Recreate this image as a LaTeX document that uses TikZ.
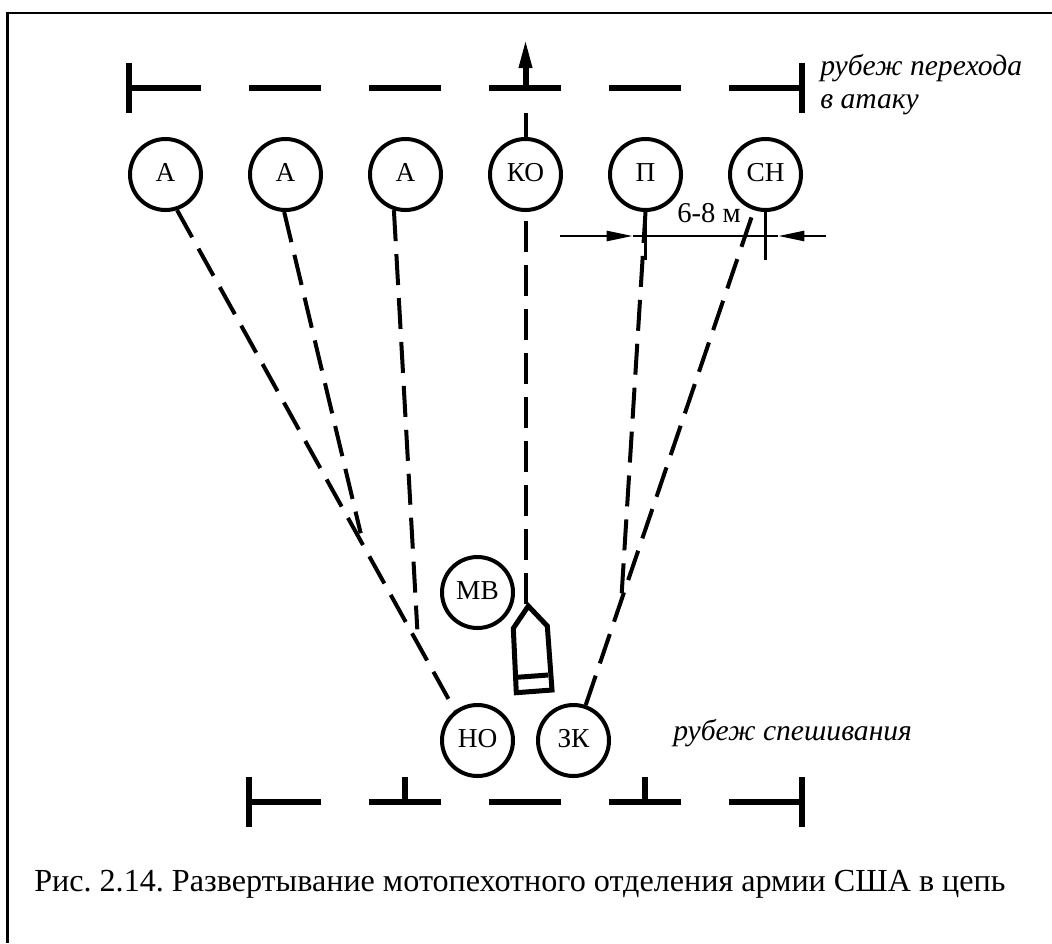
\documentclass[tikz,border=0pt]{standalone}
\usepackage{fontspec}
\setmainfont{Liberation Serif}
\usetikzlibrary{arrows.meta}
\frenchspacing

\begin{document}
\begin{tikzpicture}[y=-0.75pt, x=0.75pt,
    man/.style={draw,circle,minimum size=53.25pt,inner sep=0pt,line width=3pt,text depth=3pt,font=\fontsize{20.5}{24}\selectfont},
    route/.style={line width=3pt,dash pattern=on 23.25pt off 9.75pt},
    lane/.style={line width=4.5pt,dash pattern=on 54pt off 36pt},
    tick/.style={line width=4.5pt},
    note/.style={font=\fontsize{22.2}{27}\selectfont\itshape,anchor=base west,inner sep=0pt},
    size/.style={line width=1.9pt}]
      \useasboundingbox (0,0) rectangle (1052,943);

      %% frame
      \coordinate (fa) at (7.5,943);
      \coordinate (fb) at (7.5,13);
      \coordinate (fc) at (1052,13);
      \draw[line width=1.9pt] (fa) -- (fb) -- (fc);

      %% lanes
      \coordinate (tl) at (129,88);
      \coordinate (tr) at (801,88);
      \coordinate (bl) at (249,802);
      \coordinate (br) at (801,802);
      \draw[lane] (tl) -- (tr);
      \draw[lane] (bl) -- (br);
      \draw[tick] (129.3,63) -- (129.3,113);
      \draw[tick] (801.5,63) -- (801.5,113);
      \draw[tick] (249.3,777) -- (249.3,827);
      \draw[tick] (801.5,777) -- (801.5,827);
      \draw[tick] (405,777) -- (405,802);
      \draw[tick] (645,777) -- (645,802);

      %% men
      \node[man] (a1) at (165.5,174.5) {А};
      \node[man] (a2) at (285.5,174.5) {А};
      \node[man] (a3) at (405.5,174.5) {А};
      \node[man] (ko) at (525.5,174.5) {КО};
      \node[man] (p) at (645.5,174.5) {П};
      \node[man] (sn) at (765.5,174.5) {СН};
      \node[man] (mv) at (477.5,592.5) {МВ};
      \node[man] (no) at (477.5,740.5) {НО};
      \node[man] (zk) at (573.5,740.5) {ЗК};

      %% vehicle
      \coordinate (nose) at (525.5,604);
      \draw[line width=3.75pt] (528.3,606) -- (547.3,626) -- (552,690) -- (516.3,692.7) -- (513.3,628.3) -- cycle;
      \draw[line width=3.75pt] (516.7,677.3) -- (548.3,675);

      %% routes
      \coordinate (j2) at (360.7,533.3);
      \coordinate (j3) at (417.3,629.3);
      \coordinate (j4) at (621.7,593.3);
      \draw[route] (a1.-72) -- (no.127);
      \draw[route] (a2.-92) -- (j2);
      \draw[route] (a3.-108) -- (j3);
      \draw[route] (p.south) -- (j4);
      \draw[route] (nose) -- (ko.south);
      \draw[route] (zk.71) -- (sn.-108);

      %% advance arrow
      \coordinate (stub) at (525.5,113);
      \coordinate (base) at (525.5,88);
      \coordinate (goal) at (525.5,38);
      \draw[line width=3pt] (ko.north) -- (stub);
      \draw[line width=4.5pt,-{Triangle[length=22.5pt,width=9pt]}] (base) -- (goal);

      %% interval
      \coordinate (sl) at (560,236);
      \coordinate (sa) at (632.7,236);
      \coordinate (sb) at (778.3,236);
      \coordinate (sr) at (826,236);
      \coordinate (pe) at (645.5,260);
      \coordinate (se) at (765.5,260);
      \draw[size,-{Triangle[length=19.5pt,width=7.5pt]}] (sl) -- (sa);
      \draw[size,-{Triangle[length=19.5pt,width=7.5pt]}] (sr) -- (sb);
      \draw[size] (sa) -- (sb);
      \draw[size] (p.south) -- (pe);
      \draw[size] (sn.south) -- (se);
      \node[anchor=base west,inner sep=0pt,font=\fontsize{21.5}{24}\selectfont] (gap) at (677,222.7) {6-8 м};

      %% notes
      \node[note] (n1) at (820,75) {рубеж перехода};
      \node[note] (n2) at (820,108) {в атаку};
      \node[note] (n3) at (673,740.7) {рубеж спешивания};
      \node[anchor=base west,inner sep=0pt,font=\fontsize{24.1}{29}\selectfont] (cap) at (34,891.7) {Рис. 2.14. Развертывание мотопехотного отделения армии США в цепь};

    \end{tikzpicture}
\end{document}
